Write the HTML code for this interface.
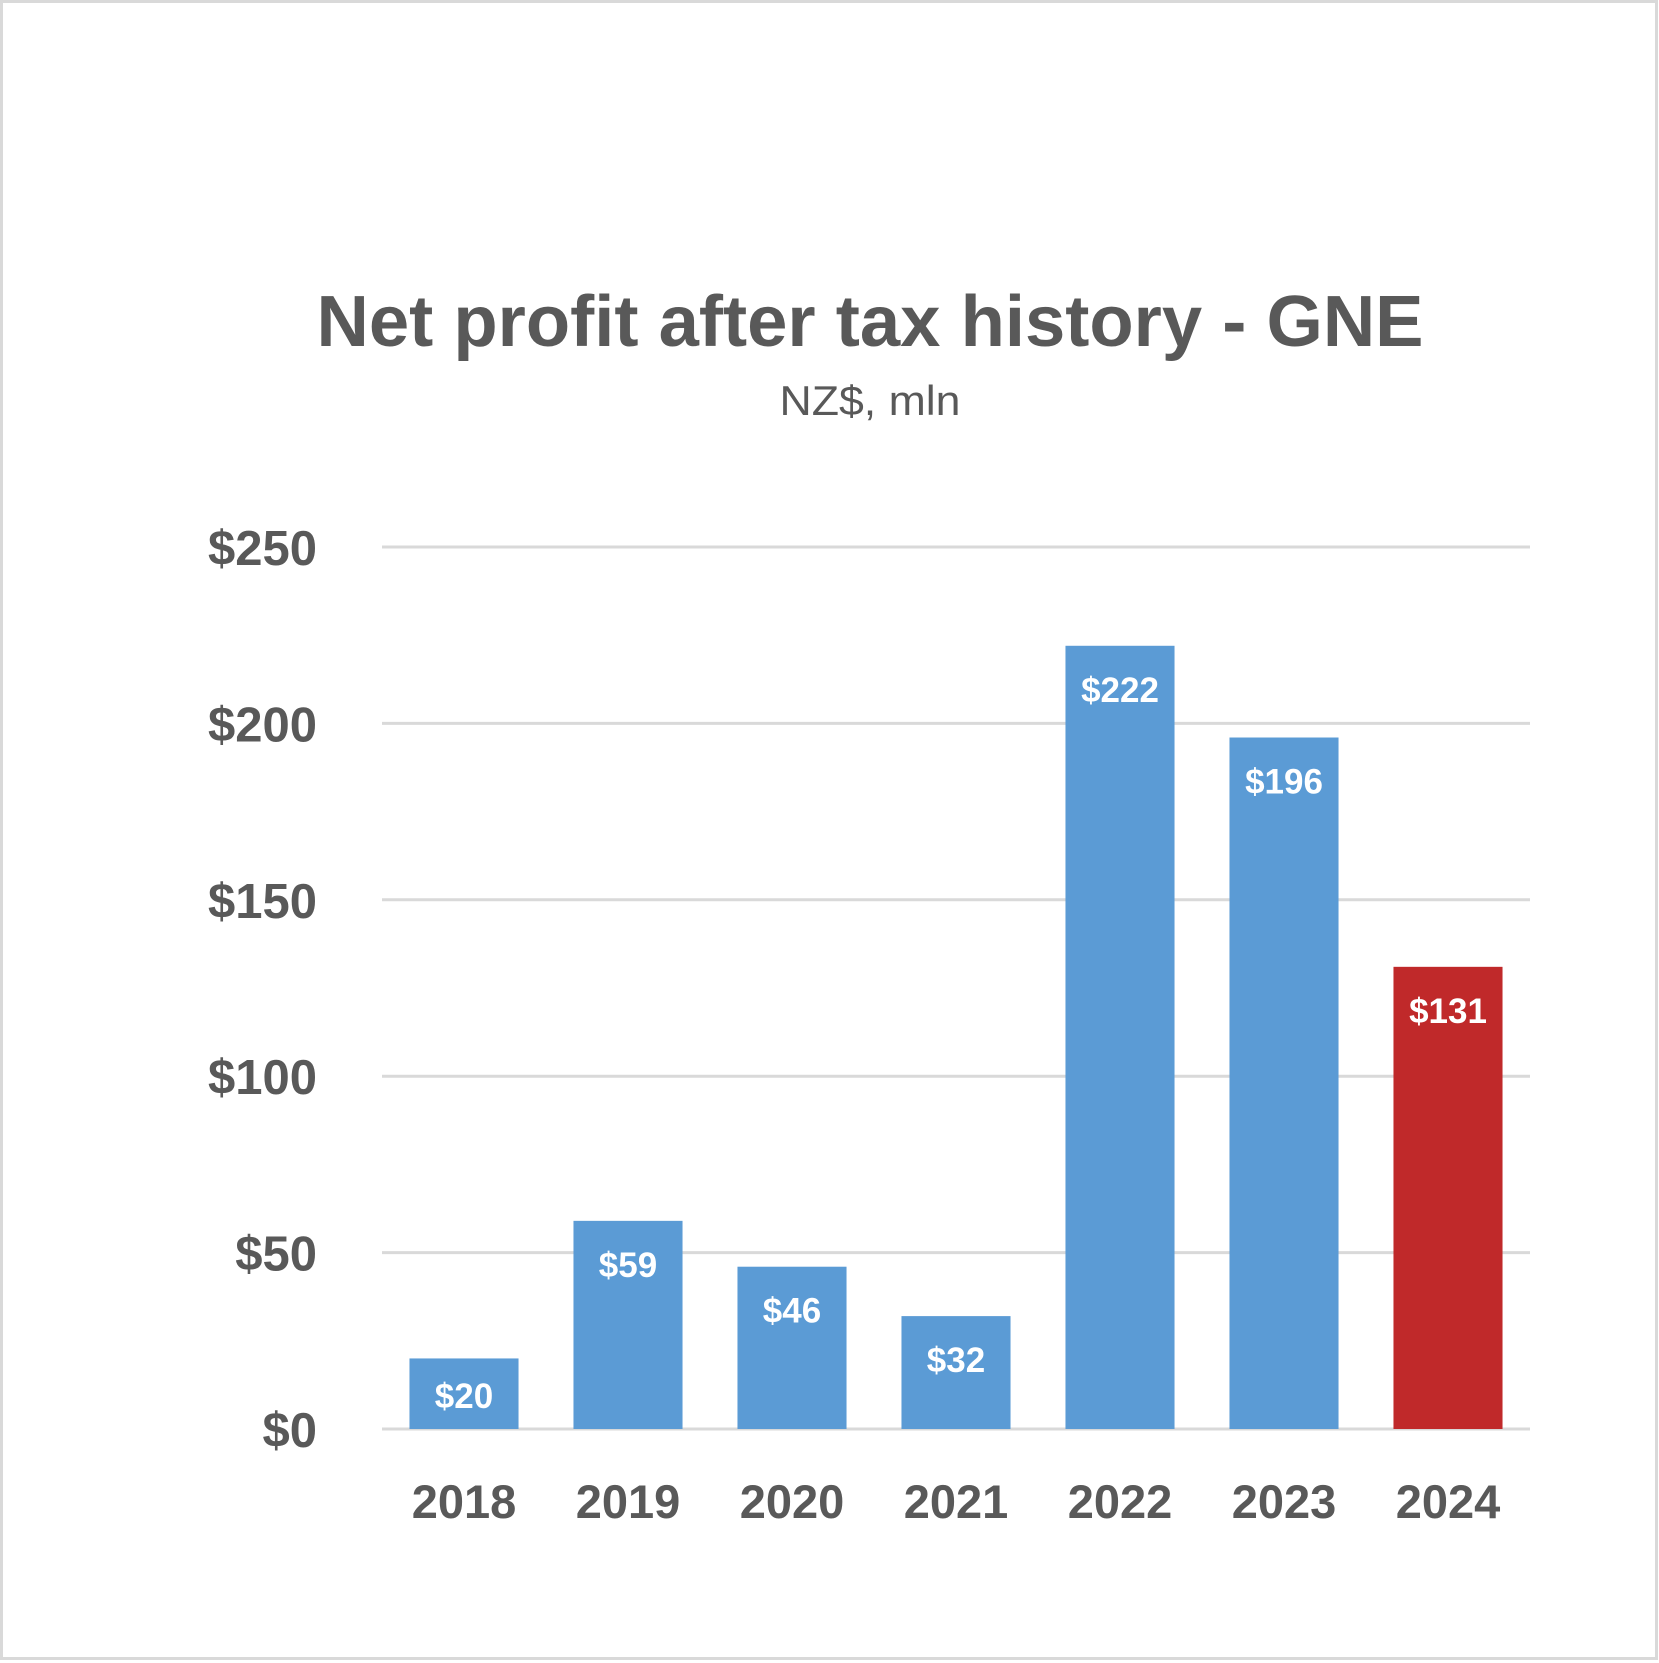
<!DOCTYPE html>
<html><head><meta charset="utf-8"><style>
html,body{margin:0;padding:0;background:#fff}
svg{display:block}
text{font-family:"Liberation Sans",sans-serif}
</style></head><body>
<svg id="chart" width="1659" height="1663" viewBox="0 0 1659 1663">
<rect x="1.5" y="1.5" width="1655" height="1657" fill="#fff" stroke="#d9d9d9" stroke-width="3"/>
<text x="870" y="346" text-anchor="middle" font-size="72" font-weight="bold" fill="#595959" textLength="1107" lengthAdjust="spacingAndGlyphs">Net profit after tax history - GNE</text>
<text x="870" y="415" text-anchor="middle" font-size="42" fill="#595959" textLength="181" lengthAdjust="spacingAndGlyphs">NZ$, mln</text>
<g id="grid"></g><g id="bars"></g><g id="labels"></g>
</svg>
<script>
const categories = ["2018","2019","2020","2021","2022","2023","2024"];
const values = [20,59,46,32,222,196,131];
const valueLabels = ["$20","$59","$46","$32","$222","$196","$131"];
const ticks = [0,50,100,150,200,250];
const tickLabels = ["$0","$50","$100","$150","$200","$250"];
const highlight = [false,false,false,false,false,false,true];

const NS="http://www.w3.org/2000/svg";
const x0=382,x1=1530,yBase=1429,yTop=547,vMax=250;
const y=v=>yBase-(v/vMax)*(yBase-yTop);
const band=(x1-x0)/categories.length;
const bw=band*0.665;
const xc=i=>x0+band*(i+0.5);
function mk(tag,attrs,parent){const e=document.createElementNS(NS,tag);for(const k in attrs)e.setAttribute(k,attrs[k]);parent.appendChild(e);return e;}
const grid=document.getElementById('grid'),bars=document.getElementById('bars'),labels=document.getElementById('labels');
ticks.forEach((t,i)=>{
  const l=mk('line',{x1:x0,x2:x1,y1:y(t),y2:y(t),stroke:'#d9d9d9','stroke-width':3},grid);
  
  
  const tx=mk('text',{x:317,y:y(t)+18,'text-anchor':'end','font-size':49,'font-weight':'bold',fill:'#595959'},labels);
  tx.textContent=tickLabels[i];
  
  
});
categories.forEach((c,i)=>{
  const r=mk('rect',{x:xc(i)-bw/2,y:y(values[i]),width:bw,height:yBase-y(values[i]),fill:highlight[i]?'#c0292a':'#5b9bd5'},bars);
  
  
  const ly=Math.min(y(values[i])+56,yBase-21);
  const vl=mk('text',{x:xc(i),y:ly,'text-anchor':'middle','font-size':35,'font-weight':'bold',fill:'#fff'},labels);
  vl.textContent=valueLabels[i];
  
  
  const xl=mk('text',{x:xc(i),y:1518,'text-anchor':'middle','font-size':47,'font-weight':'bold',fill:'#595959'},labels);
  xl.textContent=c;
  
  
});
</script>
</body></html>
